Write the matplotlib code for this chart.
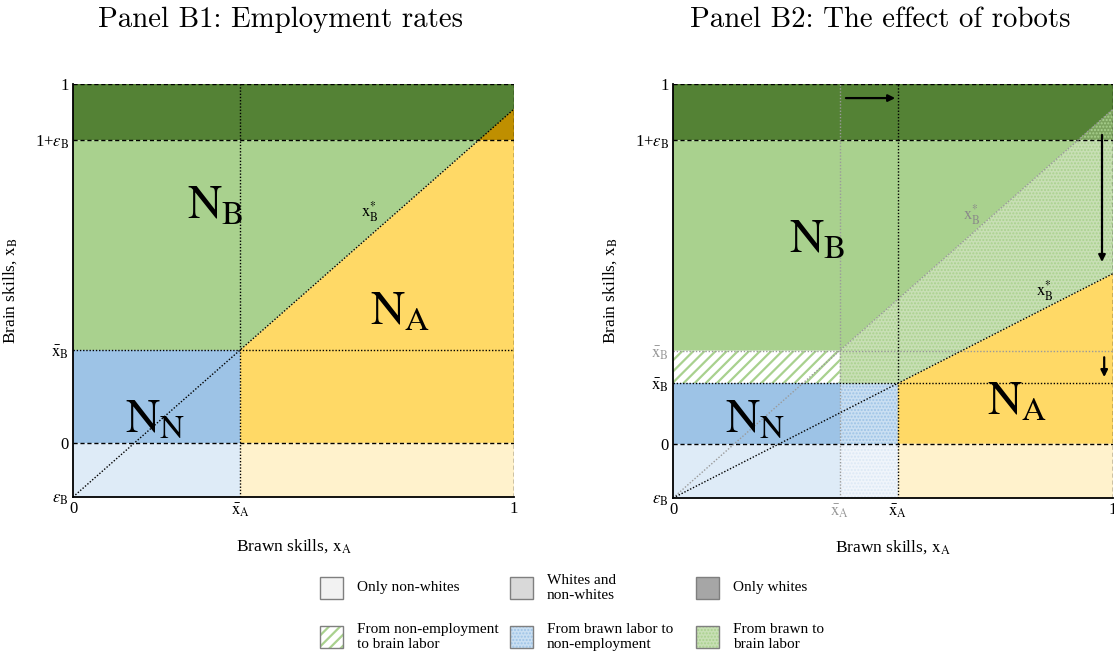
import matplotlib
matplotlib.use("Agg")
import matplotlib.pyplot as plt
from matplotlib.patches import Polygon, Rectangle

plt.rcParams['font.family'] = ['Liberation Serif', 'DejaVu Serif']
plt.rcParams['mathtext.fontset'] = 'stix'
plt.rcParams['hatch.linewidth'] = 1.0

# ---------------- data (schematic levels, axis fraction units) ----------------
eps_level = 0.0        # bottom: eps_B
zero_level = 0.131     # 0
one_eps_level = 0.864  # 1 + eps_B
top_level = 1.0        # 1
xbarA_B1 = 0.379
xbarB_B1 = 0.356
xbarA_old = 0.379
xbarB_old = 0.356
xbarA_new = 0.511
xbarB_new = 0.277

titles = ["Panel B1: Employment rates", "Panel B2: The effect of robots"]
legend_labels = ["Only non-whites", "Whites and\nnon-whites", "Only whites",
                 "From non-employment\nto brain labor", "From brawn labor to\nnon-employment",
                 "From brawn to\nbrain labor"]

# colours
DARK_GREEN = '#548235'
LIGHT_GREEN = '#A9D18E'
YELLOW = '#FFD966'
OLIVE = '#BF8F00'
BLUE = '#9DC3E6'
LIGHT_BLUE = '#DEEBF7'
LIGHT_YELLOW = '#FFF2CC'
GRAY_LINE = '#9a9a9a'
GREEN_HATCH_FACE = '#C8DFB5'
BLUE_HATCH_FACE = '#CADFF2'

W, H = 1114, 658
fig = plt.figure(figsize=(W / 100, H / 100), dpi=100)


def fpos(px_left, px_top, px_right, px_bottom):
    return [px_left / W, 1 - px_bottom / H, (px_right - px_left) / W, (px_bottom - px_top) / H]


def set_hlw(p, lw):
    try:
        p.set_hatch_linewidth(lw)
    except Exception:
        pass


def poly(ax, pts, fc, hatch=None, ec=None, z=1, hlw=None):
    if hatch:
        p = Polygon(pts, closed=True, facecolor=fc, edgecolor=ec, hatch=hatch, linewidth=0, zorder=z)
        if hlw:
            set_hlw(p, hlw)
    else:
        p = Polygon(pts, closed=True, facecolor=fc, edgecolor='none', linewidth=0, zorder=z)
    ax.add_patch(p)


def hline(ax, y, style, color='black', x0=0, x1=1, lw=1.0):
    ax.plot([x0, x1], [y, y], color=color, lw=lw, linestyle=style, zorder=5, solid_capstyle='butt')


def vline(ax, x, style, color='black', y0=0, y1=1, lw=1.0):
    ax.plot([x, x], [y0, y1], color=color, lw=lw, linestyle=style, zorder=5)


DASH = (0, (3, 2))
DOT = (0, (1, 1.3))


def setup_axes(ax, yticks, ylabels, ycolors, xticks, xlabels, xcolors):
    ax.set_xlim(0, 1)
    ax.set_ylim(0, 1)
    for s in ['top', 'right']:
        ax.spines[s].set_visible(False)
    for s in ['left', 'bottom']:
        ax.spines[s].set_linewidth(1.3)
        ax.spines[s].set_zorder(10)
    ax.set_yticks(yticks)
    ax.set_yticklabels(ylabels, fontsize=12)
    for t, c in zip(ax.get_yticklabels(), ycolors):
        t.set_color(c)
    ax.set_xticks(xticks)
    ax.set_xticklabels(xlabels, fontsize=12)
    for t, c in zip(ax.get_xticklabels(), xcolors):
        t.set_color(c)
    ax.tick_params(axis='both', length=0, pad=3)
    ax.set_yticks([top_level], minor=True)
    ax.set_xticks([1.0], minor=True)
    ax.tick_params(which='minor', length=5, width=1.0)
    ax.set_xlabel(r'Brawn skills, $\mathrm{x}_{\mathrm{A}}$', fontsize=12.5)
    ax.set_ylabel(r'Brain skills, $\mathrm{x}_{\mathrm{B}}$', fontsize=12.5)
    ax.xaxis.set_label_coords(0.5, -0.097)
    ax.yaxis.set_label_coords(-0.123, 0.5)


ylab_common_bot = [r'$\varepsilon_{\mathrm{B}}$', '0']
ylab_top = [r'1+$\varepsilon_{\mathrm{B}}$', '1']

# ======================= Panel B1 =======================
ax1 = fig.add_axes(fpos(73, 84, 514, 497))
slope = xbarB_B1 / xbarA_B1
xc = one_eps_level / slope
poly(ax1, [(0, eps_level), (xbarA_B1, eps_level), (xbarA_B1, zero_level), (0, zero_level)], LIGHT_BLUE)
poly(ax1, [(xbarA_B1, eps_level), (1, eps_level), (1, zero_level), (xbarA_B1, zero_level)], LIGHT_YELLOW)
poly(ax1, [(0, zero_level), (xbarA_B1, zero_level), (xbarA_B1, xbarB_B1), (0, xbarB_B1)], BLUE)
poly(ax1, [(xbarA_B1, zero_level), (1, zero_level), (1, one_eps_level), (xc, one_eps_level),
           (xbarA_B1, xbarB_B1)], YELLOW)
poly(ax1, [(0, xbarB_B1), (xbarA_B1, xbarB_B1), (xc, one_eps_level), (0, one_eps_level)], LIGHT_GREEN)
poly(ax1, [(0, one_eps_level), (1, one_eps_level), (1, top_level), (0, top_level)], DARK_GREEN)
poly(ax1, [(xc, one_eps_level), (1, one_eps_level), (1, slope)], OLIVE, z=2)

hline(ax1, zero_level, DASH)
hline(ax1, one_eps_level, DASH)
hline(ax1, top_level, DASH)
vline(ax1, 1.0, DASH)
hline(ax1, xbarB_B1, DOT)
vline(ax1, xbarA_B1, DOT)
ax1.plot([0, 1], [0, slope], color='black', lw=1.0, linestyle=DOT, zorder=5)

ax1.text(0.322, 0.70, r'$\mathrm{N}_{\mathrm{B}}$', fontsize=34, ha='center', va='center', zorder=8)
ax1.text(0.741, 0.445, r'$\mathrm{N}_{\mathrm{A}}$', fontsize=34, ha='center', va='center', zorder=8)
ax1.text(0.186, 0.185, r'$\mathrm{N}_{\mathrm{N}}$', fontsize=34, ha='center', va='center', zorder=8)
ax1.text(0.673, 0.69, r'$\mathrm{x}^{*}_{\mathrm{B}}$', fontsize=12, ha='center', va='center', zorder=8)

setup_axes(ax1,
           [eps_level, zero_level, xbarB_B1, one_eps_level, top_level],
           ylab_common_bot + [r'$\bar{\mathrm{x}}_{\mathrm{B}}$'] + ylab_top,
           ['black'] * 5,
           [0, xbarA_B1, 1],
           ['0', r'$\bar{\mathrm{x}}_{\mathrm{A}}$', '1'],
           ['black'] * 3)

# ======================= Panel B2 =======================
ax2 = fig.add_axes(fpos(673, 84, 1113, 498))
s_old = xbarB_old / xbarA_old
s_new = xbarB_new / xbarA_new
xc_old = one_eps_level / s_old

# bottom band
poly(ax2, [(0, eps_level), (xbarA_old, eps_level), (xbarA_old, zero_level), (0, zero_level)], LIGHT_BLUE)
poly(ax2, [(xbarA_old, eps_level), (xbarA_new, eps_level), (xbarA_new, zero_level), (xbarA_old, zero_level)],
     '#F0F5FB', hatch='.....', ec='#DCE8F5')
poly(ax2, [(xbarA_new, eps_level), (1, eps_level), (1, zero_level), (xbarA_new, zero_level)], LIGHT_YELLOW)
# non-employment
poly(ax2, [(0, zero_level), (xbarA_old, zero_level), (xbarA_old, xbarB_new), (0, xbarB_new)], BLUE)
poly(ax2, [(xbarA_old, zero_level), (xbarA_new, zero_level), (xbarA_new, xbarB_new), (xbarA_old, xbarB_new)],
     BLUE_HATCH_FACE, hatch='.....', ec=BLUE)
# brawn
poly(ax2, [(xbarA_new, zero_level), (1, zero_level), (1, s_new), (xbarA_new, xbarB_new)], YELLOW)
# non-employment -> brain
poly(ax2, [(0, xbarB_new), (xbarA_old, xbarB_new), (xbarA_old, xbarB_old), (0, xbarB_old)],
     'white', hatch='///', ec=LIGHT_GREEN, hlw=1.6)
# brawn -> brain
poly(ax2, [(xbarA_old, xbarB_new), (xbarA_new, xbarB_new), (1, s_new), (1, one_eps_level),
           (xc_old, one_eps_level), (xbarA_old, xbarB_old)],
     GREEN_HATCH_FACE, hatch='.....', ec=LIGHT_GREEN)
# brain (old)
poly(ax2, [(0, xbarB_old), (xbarA_old, xbarB_old), (xc_old, one_eps_level), (0, one_eps_level)], LIGHT_GREEN)
# top band
poly(ax2, [(0, one_eps_level), (1, one_eps_level), (1, top_level), (0, top_level)], DARK_GREEN)
poly(ax2, [(xc_old, one_eps_level), (1, one_eps_level), (1, s_old)], '#7DA460', hatch='.....', ec=LIGHT_GREEN, z=2)

hline(ax2, zero_level, DASH)
hline(ax2, one_eps_level, DASH)
hline(ax2, top_level, DASH)
vline(ax2, 1.0, DASH)
hline(ax2, xbarB_old, DOT, color=GRAY_LINE)
vline(ax2, xbarA_old, DOT, color=GRAY_LINE)
ax2.plot([0, 1], [0, s_old], color=GRAY_LINE, lw=1.0, linestyle=DOT, zorder=5)
hline(ax2, xbarB_new, DOT)
vline(ax2, xbarA_new, DOT)
ax2.plot([0, 1], [0, s_new], color='black', lw=1.0, linestyle=DOT, zorder=6)

# arrows
arrows = [((0.393, 0.966), (0.505, 0.966)),
          ((0.975, 0.877), (0.975, 0.570)),
          ((0.98, 0.340), (0.98, 0.292))]
for (x0, y0), (x1, y1) in arrows:
    ax2.annotate('', xy=(x1, y1), xytext=(x0, y0),
                 arrowprops=dict(arrowstyle='-|>', color='black', lw=1.6,
                                 mutation_scale=10, shrinkA=0, shrinkB=0), zorder=9)

ax2.text(0.327, 0.62, r'$\mathrm{N}_{\mathrm{B}}$', fontsize=34, ha='center', va='center', zorder=8)
ax2.text(0.186, 0.188, r'$\mathrm{N}_{\mathrm{N}}$', fontsize=34, ha='center', va='center', zorder=8)
ax2.text(0.782, 0.228, r'$\mathrm{N}_{\mathrm{A}}$', fontsize=34, ha='center', va='center', zorder=8)
ax2.text(0.68, 0.685, r'$\mathrm{x}^{*}_{\mathrm{B}}$', fontsize=12, ha='center', va='center',
         color='#8a8a8a', zorder=8)
ax2.text(0.845, 0.50, r'$\mathrm{x}^{*}_{\mathrm{B}}$', fontsize=12, ha='center', va='center', zorder=8)

setup_axes(ax2,
           [eps_level, zero_level, xbarB_new, xbarB_old, one_eps_level, top_level],
           ylab_common_bot + [r'$\bar{\mathrm{x}}_{\mathrm{B}}$', r'$\bar{\mathrm{x}}_{\mathrm{B}}$'] + ylab_top,
           ['black', 'black', 'black', '#999999', 'black', 'black'],
           [0, xbarA_old, xbarA_new, 1],
           ['0', r'$\bar{\mathrm{x}}_{\mathrm{A}}$', r'$\bar{\mathrm{x}}_{\mathrm{A}}$', '1'],
           ['black', '#999999', 'black', 'black'])

# titles
fig.text(280 / W, 1 - 20 / H, titles[0], family='cmr10', fontsize=20.8, ha='center', va='center')
fig.text(880 / W, 1 - 20 / H, titles[1], family='cmr10', fontsize=20.8, ha='center', va='center')

# ======================= legend (manual) =======================
leg_styles = [
    dict(fc='#F2F2F2', hatch=None, ec='#7f7f7f', hlw=None),
    dict(fc='#D9D9D9', hatch=None, ec='#7f7f7f', hlw=None),
    dict(fc='#A6A6A6', hatch=None, ec='#6f6f6f', hlw=None),
    dict(fc='white', hatch='///', ec=LIGHT_GREEN, hlw=1.6),
    dict(fc=BLUE_HATCH_FACE, hatch='.....', ec=BLUE, hlw=None),
    dict(fc=GREEN_HATCH_FACE, hatch='.....', ec=LIGHT_GREEN, hlw=None),
]
col_x = [320, 510, 696]
row_y = [588, 637]
bw, bh = 23, 22
for i, (lab, st) in enumerate(zip(legend_labels, leg_styles)):
    r, c = divmod(i, 3)
    x0 = col_x[c]
    yc = row_y[r]
    if st['hatch']:
        rect = Rectangle((x0 / W, 1 - (yc + bh / 2) / H), bw / W, bh / H, transform=fig.transFigure,
                         facecolor=st['fc'], edgecolor=st['ec'], hatch=st['hatch'], lw=0)
        if st['hlw']:
            set_hlw(rect, st['hlw'])
        fig.add_artist(rect)
    rect2 = Rectangle((x0 / W, 1 - (yc + bh / 2) / H), bw / W, bh / H, transform=fig.transFigure,
                      facecolor=st['fc'] if not st['hatch'] else 'none', edgecolor='#7f7f7f', lw=1.0)
    fig.add_artist(rect2)
    fig.text((x0 + bw + 14) / W, 1 - yc / H, lab, fontsize=11, ha='left', va='center', linespacing=1.15)

fig.savefig('out.png', dpi=100)
